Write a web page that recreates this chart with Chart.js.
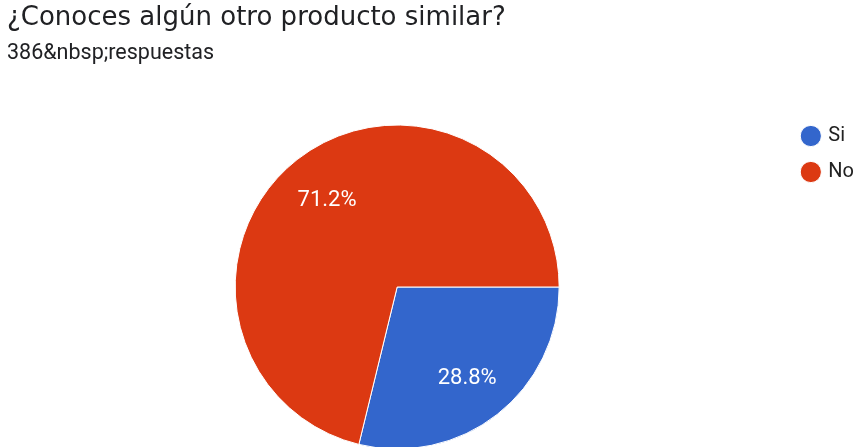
<!DOCTYPE html>
<html lang="es">
<head>
<meta charset="utf-8">
<title>¿Conoces algún otro producto similar?</title>
<script src="https://cdn.jsdelivr.net/npm/chart.js"></script>
<style>
  html, body { margin: 0; padding: 0; background: #fff; overflow: hidden; }
  /* the pie runs a little past the bottom edge, so the canvas is taller than the page */
  .chart-box { position: relative; width: 856px; height: 464px; }
</style>
</head>
<body>
<div class="chart-box"><canvas id="surveyPie"></canvas></div>
<script>
const questionTitle = '¿Conoces algún otro producto similar?';
const responseLabel = '386&nbsp;respuestas';
const categories = ['Si', 'No'];
const shares = [28.8, 71.2];
const sliceColors = ['#3366cc', '#dc3912'];

// percentage text inside each slice, placed at 70% of the radius
const sliceLabels = {
  id: 'sliceLabels',
  afterDatasetsDraw(chart) {
    const { ctx } = chart;
    const meta = chart.getDatasetMeta(0);
    const total = shares.reduce((a, b) => a + b, 0);
    const size = 22;
    ctx.save();
    ctx.font = size + 'px Roboto';
    ctx.fillStyle = '#ffffff';
    ctx.textAlign = 'center';
    ctx.textBaseline = 'alphabetic';
    meta.data.forEach((arc, i) => {
      const { x, y, startAngle, endAngle, outerRadius } =
        arc.getProps(['x', 'y', 'startAngle', 'endAngle', 'outerRadius'], true);
      const mid = (startAngle + endAngle) / 2;
      const r = outerRadius * 0.7;
      const pct = (shares[i] / total * 100).toFixed(1) + '%';
      // digits sit centred on the anchor point
      ctx.fillText(pct, x + Math.cos(mid) * r, y + Math.sin(mid) * r + size * 0.355);
    });
    ctx.restore();
  }
};

new Chart(document.getElementById('surveyPie'), {
  type: 'pie',
  data: {
    labels: categories,
    datasets: [{
      data: shares,
      backgroundColor: sliceColors,
      borderColor: '#ffffff',
      borderWidth: 1,
      radius: 162
    }]
  },
  options: {
    responsive: true,
    maintainAspectRatio: false,
    animation: false,
    rotation: 90,
    layout: { padding: { left: 7, right: -8, top: 0, bottom: 0 } },
    plugins: {
      title: {
        display: true,
        text: questionTitle,
        align: 'start',
        color: '#202124',
        font: { family: 'DejaVu Sans', size: 26, weight: 'normal' },
        padding: { top: 3, bottom: 0 }
      },
      subtitle: {
        display: true,
        text: responseLabel,
        align: 'start',
        color: '#202124',
        font: { family: 'Roboto', size: 21.5 },
        padding: { top: 7, bottom: 43 }
      },
      legend: {
        position: 'right',
        align: 'start',
        fullSize: false,
        labels: {
          usePointStyle: true,
          pointStyle: 'circle',
          boxWidth: 15,
          boxHeight: 15,
          padding: 16,
          color: '#222222',
          font: { family: 'Roboto', size: 20 }
        }
      },
      tooltip: { enabled: false }
    }
  },
  plugins: [sliceLabels]
});
</script>
</body>
</html>
